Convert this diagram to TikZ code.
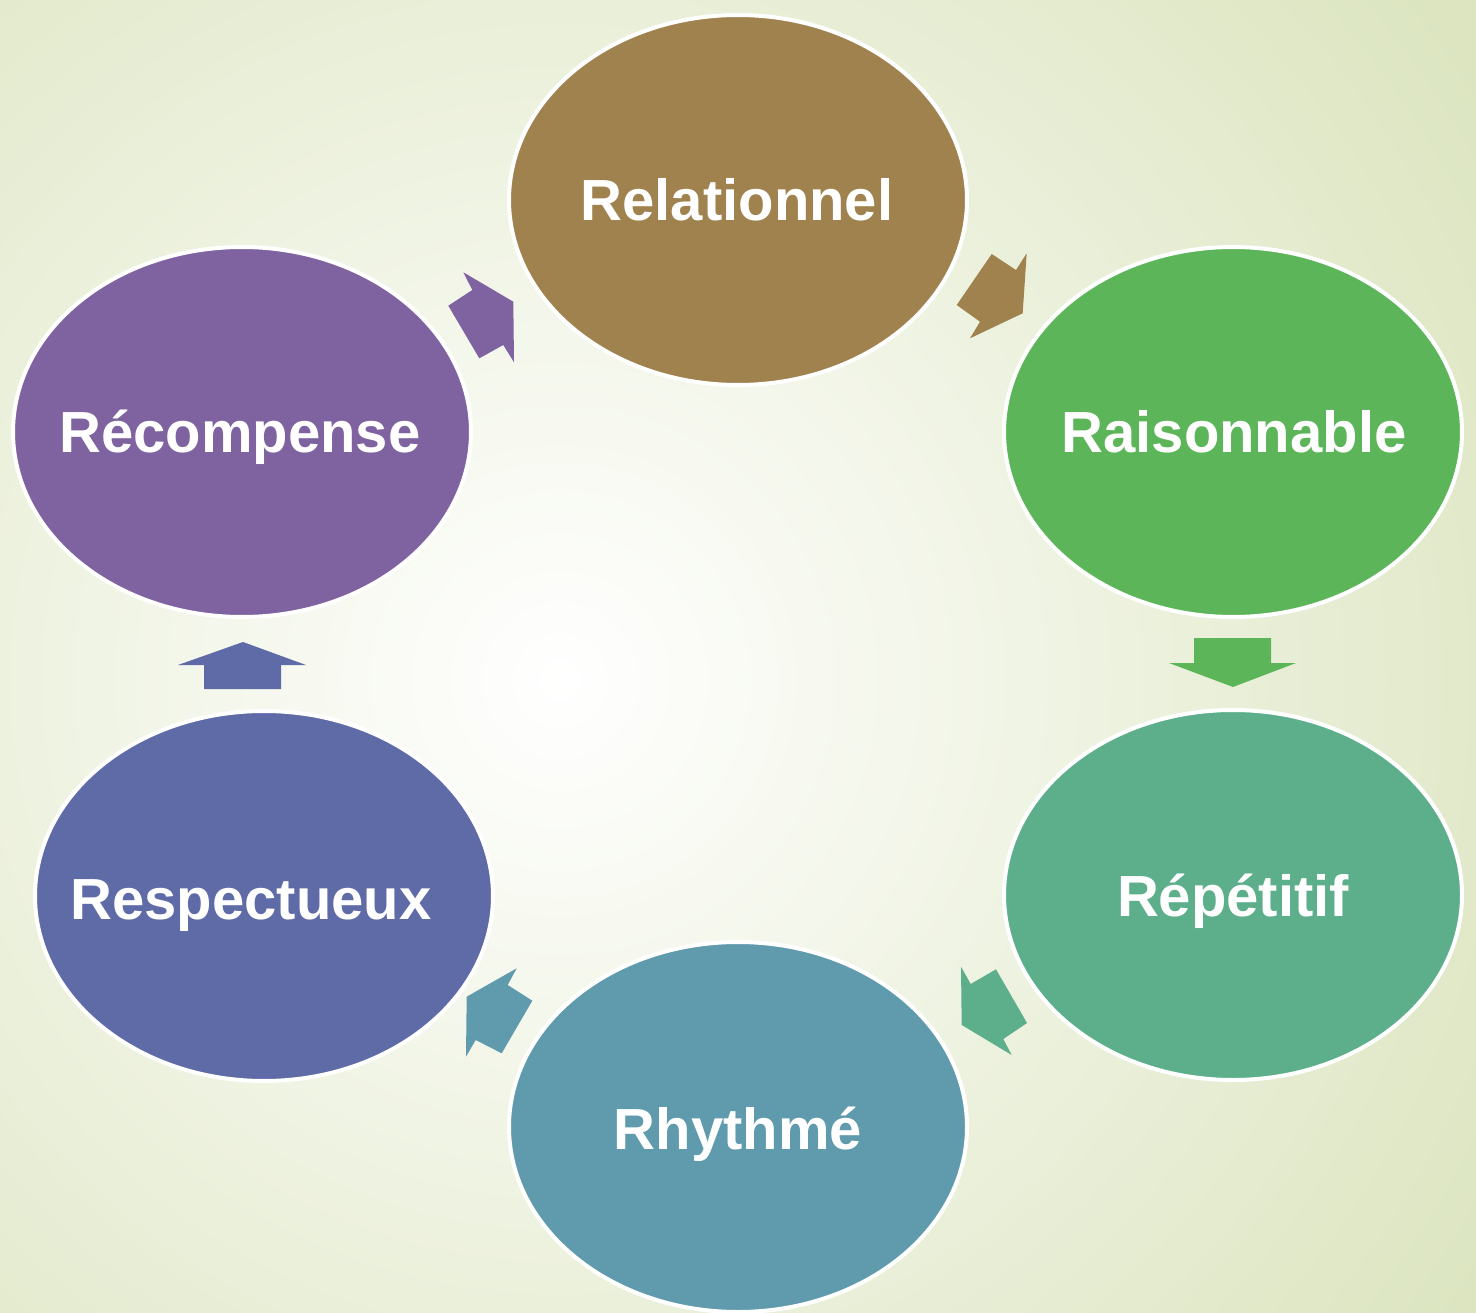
\documentclass[tikz,border=0pt]{standalone}
\usepackage{fontspec}
\setmainfont{Liberation Sans}
\usetikzlibrary{shapes.geometric}
\definecolor{bgout}{HTML}{DCE5C0}
\definecolor{cRel}{HTML}{A0824F}
\definecolor{cRai}{HTML}{5DB55A}
\definecolor{cRep}{HTML}{5DAF8C}
\definecolor{cRhy}{HTML}{609AAD}
\definecolor{cRes}{HTML}{5F6BA7}
\definecolor{cRec}{HTML}{7E63A0}
\begin{document}
\begin{tikzpicture}[x=1pt,y=-1pt,
  blob/.style={ellipse, fill=#1, draw=white, line width=4pt, minimum width=458pt, minimum height=370pt, inner sep=0pt},
  lbl/.style={text=white, font=\bfseries\fontsize{58}{60}\selectfont, text height=42pt, text depth=0pt, inner sep=0pt},
  blockarrow/.style={fill=#1, draw=none}]
\useasboundingbox (0,0) rectangle (1476,1313);
\begin{scope}
\clip (0,0) rectangle (1476,1313);
\fill[bgout] (0,0) rectangle (1476,1313);
\shade[inner color=white, outer color=bgout] (560,680) circle (1100);
\end{scope}
% ellipses
\node[blob=cRel] (e1) at (738,200) {};
\node[blob=cRai] (e2) at (1233,432) {};
\node[blob=cRep] (e3) at (1233,895) {};
\node[blob=cRhy] (e4) at (738,1127) {};
\node[blob=cRes] (e5) at (264,896) {};
\node[blob=cRec] (e6) at (242,432) {};
% labels
\node[lbl] (t1) at ([xshift=-1pt]e1.center) {Relationnel};
\node[lbl] (t2) at ([xshift=1pt]e2.center) {Raisonnable};
\node[lbl] (t3) at (e3.center) {Répétitif};
\node[lbl] (t4) at ([yshift=-1pt]e4.center) {Rhythmé};
\node[lbl] (t5) at ([xshift=-13pt,yshift=-2pt]e5.center) {Respectueux};
\node[lbl] (t6) at ([xshift=-2pt]e6.center) {Récompense};
% block arrows
\fill[blockarrow=cRel] (991.7,254) -- (1016,270) -- (1026.7,253.3) -- (1022.7,313.3) -- (970,338.3) -- (980,321.7) -- (956.7,305) -- cycle;
\fill[blockarrow=cRai] (1194,638) -- (1271,638) -- (1271,663) -- (1296,663) -- (1233,687) -- (1169,663) -- (1194,663) -- cycle;
\fill[blockarrow=cRep] (996,969.3) -- (1027,1023) -- (1003.3,1039) -- (1011.7,1055) -- (961.7,1025) -- (961,966.7) -- (970.7,984) -- cycle;
\fill[blockarrow=cRhy] (532.3,1000.7) -- (501.7,1053.3) -- (475.7,1040) -- (466,1056.7) -- (466.7,996.7) -- (516.7,968.3) -- (507.7,985) -- cycle;
\fill[blockarrow=cRes] (204,689) -- (281,689) -- (281,665) -- (306,665) -- (243,642) -- (178,665) -- (204,665) -- cycle;
\fill[blockarrow=cRec] (448.3,305.7) -- (479.3,358.3) -- (503.3,345) -- (514,362.3) -- (513.3,301.7) -- (463.3,272.3) -- (472.3,290) -- cycle;
\end{tikzpicture}
\end{document}
